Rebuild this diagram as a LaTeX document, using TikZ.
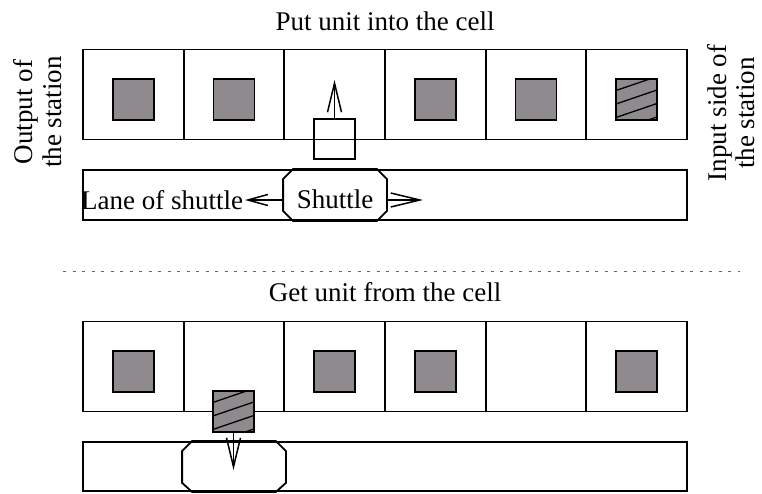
\documentclass[tikz,border=0pt]{standalone}
\usepackage{fontspec}
\setmainfont{Liberation Serif}
\usetikzlibrary{arrows.meta}
\definecolor{unitgray}{RGB}{142,138,142}
\begin{document}
\begin{tikzpicture}[x=1pt,y=-1pt,line width=1.8pt,
  font=\fontsize{27}{29}\selectfont,
  cellbox/.style={draw,rectangle,inner sep=0pt,minimum width=100.67pt,minimum height=90pt},
  lanebox/.style={draw,rectangle,inner sep=0pt,minimum width=604pt,minimum height=50pt},
  shuttlebox/.style={rectangle,inner sep=0pt,minimum width=102pt,minimum height=50pt},
  unitbox/.style={draw,rectangle,fill=unitgray,inner sep=0pt,minimum size=41pt,line width=1.6pt},
  probe/.style={draw,rectangle,inner sep=0pt,minimum width=41pt,minimum height=40pt,line width=1.5pt},
  hatchline/.style={line width=1.3pt},
  arr/.style={-{Straight Barb[length=29pt,width=14pt]},line width=1.5pt},
  arrshort/.style={-{Straight Barb[length=20pt,width=11pt]},line width=1.5pt},
  txt/.style={inner sep=0pt},
  sep/.style={line width=1pt,black!60,dash pattern=on 3pt off 6.5pt}
]
\useasboundingbox (0,0) rectangle (762,493);

% ---------- top panel ----------
\node[txt,anchor=base] (title1) at (385,30) {Put unit into the cell};
\foreach \i in {1,...,6}
  \node[cellbox] (tc\i) at ({83+100.67*(\i-0.5)},94.5) {};
\foreach \i in {1,2,4,5,6}
  \node[unitbox] (tu\i) at ({83+100.67*(\i-0.5)},99.5) {};
\begin{scope}[shift={(tu6.north west)}]
  \clip (0,0) rectangle (41,41);
  \foreach \c in {12.5,26,39.5,53}
    \draw[hatchline] (0,\c) -- (41,\c-14);
\end{scope}

\node[lanebox] (lane1) at (385,195) {};
\node[shuttlebox] (sh1) at (335,195) {};
\draw ([xshift=10pt]sh1.north west) -- ([xshift=-10pt]sh1.north east)
  -- ([yshift=-10pt]sh1.north east) -- ([yshift=10pt]sh1.south east)
  -- ([xshift=-10pt]sh1.south east) -- ([xshift=10pt]sh1.south west)
  -- ([yshift=10pt]sh1.south west) -- ([yshift=-10pt]sh1.north west) -- cycle;
\node[txt,anchor=base] (sh1t) at (335,208) {Shuttle};
\node[txt,anchor=base east] (lanet) at (244,209) {Lane of shuttle};

\node[probe] (pr1) at (334.5,139) {};
\coordinate (up1) at (334.5,80);
\draw[arr] (pr1.north) -- (up1);

\coordinate (r1) at (423,200);
\coordinate (l1) at (245,200);
\draw[arr] (sh1.east |- r1) -- (r1);
\draw[arrshort] (sh1.west |- l1) -- (l1);

\node[txt,rotate=90,align=center] (outst) at (38,112) {Output of\\the station};
\node[txt,rotate=90,align=center,font=\fontsize{27}{28}\selectfont] (inst) at (731,113) {Input side of\\the station};

% ---------- separator ----------
\coordinate (d1) at (63,271);
\coordinate (d2) at (740,271);
\draw[sep] (d1) -- (d2);

% ---------- bottom panel ----------
\node[txt,anchor=base] (title2) at (385,301) {Get unit from the cell};
\foreach \i in {1,...,6}
  \node[cellbox] (bc\i) at ({83+100.67*(\i-0.5)},366.5) {};
\foreach \i in {1,3,4,6}
  \node[unitbox] (bu\i) at ({83+100.67*(\i-0.5)},371.5) {};

\node[lanebox,minimum height=49pt] (lane2) at (385,466.5) {};
\node[shuttlebox,minimum height=49pt] (sh2) at (234,466.5) {};
\draw ([xshift=10pt]sh2.north west) -- ([xshift=-10pt]sh2.north east)
  -- ([yshift=-10pt]sh2.north east) -- ([yshift=9pt]sh2.south east)
  -- ([xshift=-10pt]sh2.south east) -- ([xshift=10pt]sh2.south west)
  -- ([yshift=9pt]sh2.south west) -- ([yshift=-10pt]sh2.north west) -- cycle;

\node[unitbox] (bh) at (233.5,411.5) {};
\begin{scope}[shift={(bh.north west)}]
  \clip (0,0) rectangle (41,41);
  \foreach \c in {12.5,26,39.5,53}
    \draw[hatchline] (0,\c) -- (41,\c-14);
\end{scope}
\coordinate (dn2) at (233.5,470);
\draw[arr] (bh.south) -- (dn2);
\end{tikzpicture}
\end{document}
